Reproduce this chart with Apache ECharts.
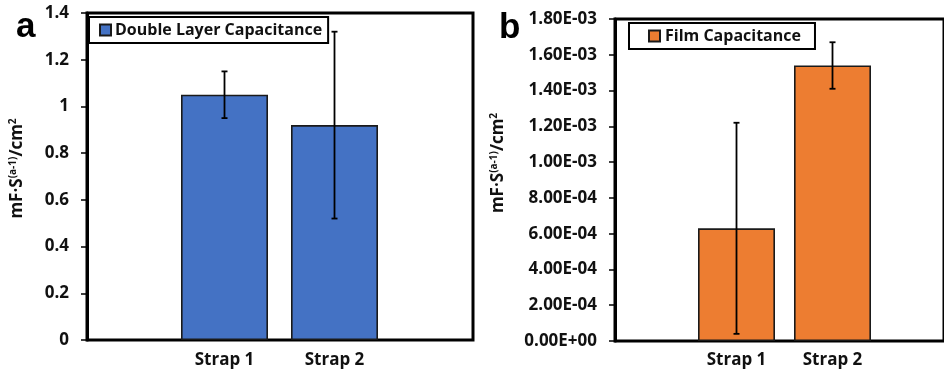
<!DOCTYPE html>
<html>
<head>
<meta charset="utf-8">
<script src="https://cdn.jsdelivr.net/npm/echarts@6/dist/echarts.min.js"></script>
<style>html,body{margin:0;padding:0;background:#fff}#c{width:944px;height:376px}</style>
</head>
<body>
<div id="c"></div>
<script>
const categories = ['Strap 1', 'Strap 2'];
const dlcValues = [1.05, 0.92];
const dlcErrors = [0.10, 0.40];
const filmValues = [6.3e-4, 1.54e-3];
const filmErrors = [5.9e-4, 1.3e-4];
const aTicks = { min: 0, max: 1.4, interval: 0.2 };
const bTicks = { min: 0, max: 0.0018, interval: 0.0002 };

const FONT = 'Open Sans';
const chart = echarts.init(document.getElementById('c'), null, { renderer: 'canvas' });

function sci(v) {
  if (v === 0) return '0.00E+00';
  let e = Math.floor(Math.log10(Math.abs(v)) + 1e-9);
  let m = v / Math.pow(10, e);
  if (Math.abs(m) >= 9.995) { m /= 10; e += 1; }
  const sign = e < 0 ? '-' : '+';
  const ae = Math.abs(e);
  return m.toFixed(2) + 'E' + sign + (ae < 10 ? '0' + ae : '' + ae);
}

function errRender(params, api) {
  const x = api.value(0), y = api.value(1), e = api.value(2);
  const top = api.coord([x, y + e]);
  const bot = api.coord([x, y - e]);
  const w = 3;
  const st = { stroke: '#000', lineWidth: 1.8 };
  return {
    type: 'group',
    children: [
      { type: 'line', shape: { x1: top[0], y1: top[1], x2: bot[0], y2: bot[1] }, style: st },
      { type: 'line', shape: { x1: top[0] - w, y1: top[1], x2: top[0] + w, y2: top[1] }, style: st },
      { type: 'line', shape: { x1: bot[0] - w, y1: bot[1], x2: bot[0] + w, y2: bot[1] }, style: st }
    ]
  };
}

const nameRich = {
  m: { fontFamily: FONT, fontWeight: 'bold', fontSize: 17, color: '#111' },
  s: { fontFamily: FONT, fontWeight: 'bold', fontSize: 10, color: '#111', verticalAlign: 'top', padding: [0, 0, 8, 0] }
};
const axisNameText = '{m|mF·S}{s|(a-1)}{m|/cm}{s|2}';

const tickLabel = { fontFamily: FONT, fontWeight: 'bold', fontSize: 17, color: '#111' };

const option = {
  animation: false,
  title: [
    { text: 'a', left: 11, top: 5, textStyle: { fontFamily: 'Liberation Sans', fontWeight: 'bold', fontSize: 35, color: '#000' } },
    { text: 'b', left: 494, top: 6, textStyle: { fontFamily: 'Liberation Sans', fontWeight: 'bold', fontSize: 35, color: '#000' } }
  ],
  legend: [
    { data: ['Double Layer Capacitance'], left: 89, top: 17, orient: 'horizontal', icon: 'rect',
      itemWidth: 11, itemHeight: 11, itemGap: 5, padding: [5, 6, 5, 10],
      borderColor: '#000', borderWidth: 2, backgroundColor: '#fff',
      textStyle: { fontFamily: FONT, fontWeight: 'bold', fontSize: 16, color: '#111', padding: [0, 0, 0, -1] } },
    { data: ['Film Capacitance'], left: 629, top: 23, orient: 'horizontal', icon: 'rect',
      itemWidth: 11, itemHeight: 11, itemGap: 5, padding: [5, 14, 5, 19],
      borderColor: '#000', borderWidth: 2, backgroundColor: '#fff',
      textStyle: { fontFamily: FONT, fontWeight: 'bold', fontSize: 16, color: '#111' } }
  ],
  grid: [
    { left: 87, top: 13, width: 386, height: 327, show: true, borderColor: '#000', borderWidth: 3, z: 1 },
    { left: 169.5, top: 13, width: 220, height: 327 },
    { left: 615, top: 19, width: 339, height: 322, show: true, borderColor: '#000', borderWidth: 3, z: 1 },
    { left: 688.5, top: 19, width: 192, height: 322 }
  ],
  xAxis: [
    { gridIndex: 0, type: 'category', data: categories, show: false },
    { gridIndex: 1, type: 'category', data: categories,
      axisLine: { show: false }, axisTick: { show: false },
      axisLabel: Object.assign({ margin: 12 }, tickLabel) },
    { gridIndex: 2, type: 'category', data: categories, show: false },
    { gridIndex: 3, type: 'category', data: categories,
      axisLine: { show: false }, axisTick: { show: false },
      axisLabel: Object.assign({ margin: 11 }, tickLabel) }
  ],
  yAxis: [
    { gridIndex: 0, type: 'value', min: aTicks.min, max: aTicks.max, interval: aTicks.interval,
      splitLine: { show: false },
      axisLine: { show: true, lineStyle: { color: '#000', width: 3 } },
      axisTick: { show: true, length: 6, lineStyle: { color: '#000', width: 1.5 } },
      axisLabel: Object.assign({ margin: 18 }, tickLabel),
      name: axisNameText, nameLocation: 'middle', nameGap: 61, nameRotate: 90,
      nameTextStyle: { rich: nameRich, padding: [0, 0, 0, 16] } },
    { gridIndex: 1, type: 'value', min: aTicks.min, max: aTicks.max, interval: aTicks.interval, show: false, splitLine: { show: false } },
    { gridIndex: 2, type: 'value', min: bTicks.min, max: bTicks.max, interval: bTicks.interval,
      splitLine: { show: false },
      axisLine: { show: true, lineStyle: { color: '#000', width: 3 } },
      axisTick: { show: true, length: 6, lineStyle: { color: '#000', width: 1.5 } },
      axisLabel: Object.assign({ margin: 18, formatter: sci }, tickLabel),
      name: axisNameText, nameLocation: 'middle', nameGap: 108, nameRotate: 90,
      nameTextStyle: { rich: nameRich, padding: [0, 0, 0, 34] } },
    { gridIndex: 3, type: 'value', min: bTicks.min, max: bTicks.max, interval: bTicks.interval, show: false, splitLine: { show: false } }
  ],
  series: [
    { name: 'Double Layer Capacitance', type: 'bar', xAxisIndex: 1, yAxisIndex: 1, data: dlcValues, barWidth: 87,
      itemStyle: { color: '#4472C4', borderColor: '#1a1a1a', borderWidth: 1.6 }, z: 2 },
    { name: 'dlcErr', type: 'custom', xAxisIndex: 1, yAxisIndex: 1, renderItem: errRender,
      data: categories.map((c, i) => [i, dlcValues[i], dlcErrors[i]]), encode: { x: 0, y: 1 }, z: 5, clip: false },
    { name: 'Film Capacitance', type: 'bar', xAxisIndex: 3, yAxisIndex: 3, data: filmValues, barWidth: 77,
      itemStyle: { color: '#ED7D31', borderColor: '#1a1a1a', borderWidth: 1.6 }, z: 2 },
    { name: 'filmErr', type: 'custom', xAxisIndex: 3, yAxisIndex: 3, renderItem: errRender,
      data: categories.map((c, i) => [i, filmValues[i], filmErrors[i]]), encode: { x: 0, y: 1 }, z: 5, clip: false }
  ]
};
chart.setOption(option);
</script>
</body>
</html>
